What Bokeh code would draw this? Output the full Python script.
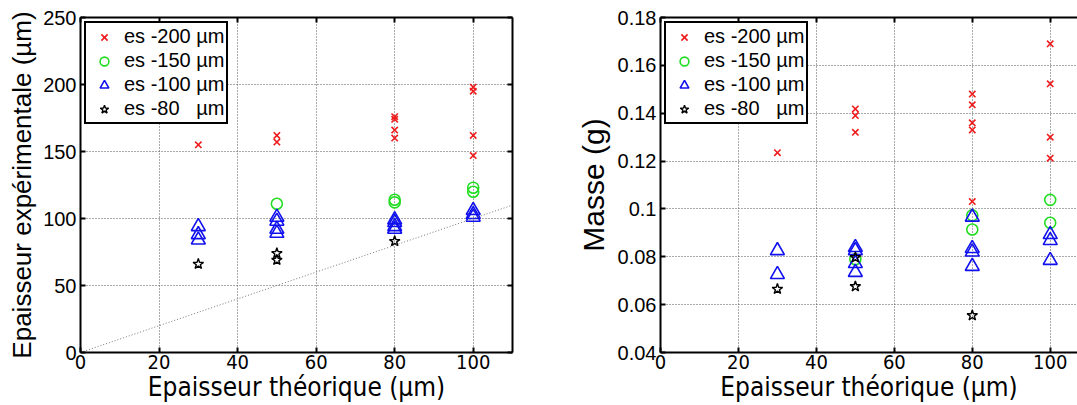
from bokeh.plotting import figure
from bokeh.layouts import row
from bokeh.models import (Range1d, FixedTicker, LinearAxis, Legend, LegendItem,
                          CustomJSTickFormatter)
from bokeh.embed import file_html
from bokeh.resources import INLINE

# ---------------- data ----------------
series_labels = ["es -200 \u00b5m", "es -150 \u00b5m", "es -100 \u00b5m", "es -80\u00a0\u00a0\u00a0\u00b5m"]

# left panel : experimental thickness (um) vs theoretical thickness (um)
x200_l = [30, 50, 50, 80, 80, 80, 80, 100, 100, 100, 100]
y200_l = [155, 162, 157, 176, 174, 166, 160, 198, 195, 162, 147]
x150_l = [50, 80, 80, 100, 100]
y150_l = [111, 114, 112, 123, 120]
x100_l = [30, 30, 30, 50, 50, 50, 50, 80, 80, 80, 80, 100, 100, 100]
y100_l = [94, 88, 84, 101, 98, 92, 89, 99, 97, 94, 92, 106, 103, 101]
x80_l = [30, 50, 50, 80]
y80_l = [66, 74, 69, 83]
diag = [0, 110]

# right panel : mass (g) vs theoretical thickness (um)
x200_r = [30, 50, 50, 50, 80, 80, 80, 80, 80, 100, 100, 100, 100]
y200_r = [0.1235, 0.1418, 0.139, 0.132, 0.148, 0.1435, 0.136, 0.133, 0.1031, 0.169, 0.1523, 0.130, 0.1212]
x150_r = [50, 80, 80, 100, 100]
y150_r = [0.079, 0.0973, 0.0914, 0.1038, 0.0942]
x100_r = [30, 30, 50, 50, 50, 50, 80, 80, 80, 80, 100, 100, 100]
y100_r = [0.0826, 0.0726, 0.0839, 0.0826, 0.0772, 0.0735, 0.0966, 0.0835, 0.082, 0.076, 0.0893, 0.0868, 0.0785]
x80_r = [30, 50, 50, 80]
y80_r = [0.0665, 0.0797, 0.0676, 0.0555]

x_ticks = [0, 20, 40, 60, 80, 100]
y_ticks_l = [0, 50, 100, 150, 200, 250]
y_ticks_r = [0.04, 0.06, 0.08, 0.10, 0.12, 0.14, 0.16, 0.18]

FONT = "Liberation Sans"
NARROW = "DejaVu Sans Condensed"
H = 405
TOP = 17
FRAME_H = 335


def style_axis(ax, ticks, label_font, label_size, tick_font, tick_size):
    ax.ticker = FixedTicker(ticks=ticks)
    ax.axis_line_width = 2
    ax.axis_line_color = "black"
    ax.major_tick_in = 5
    ax.major_tick_out = 0
    ax.major_tick_line_width = 2
    ax.minor_tick_line_color = None
    ax.major_label_text_font = tick_font
    ax.major_label_text_font_size = tick_size
    ax.major_label_text_color = "black"
    ax.axis_label_text_font = label_font
    ax.axis_label_text_font_size = label_size
    ax.axis_label_text_font_style = "normal"
    ax.axis_label_text_color = "black"


def blank_axis(ticks):
    ax = LinearAxis()
    ax.ticker = FixedTicker(ticks=ticks)
    ax.formatter = CustomJSTickFormatter(code="return '';")
    ax.axis_line_width = 2
    ax.axis_line_color = "black"
    ax.major_tick_in = 5
    ax.major_tick_out = 0
    ax.major_tick_line_width = 2
    ax.minor_tick_line_color = None
    ax.major_label_standoff = 0
    return ax


def make_fig(width, xr, yr, yticks, ylabel, ylabel_size, ylabel_standoff, data, mbl, mbr,
             right_border, yfmt=None):
    p = figure(width=width, height=H, output_backend="svg", toolbar_location=None,
               x_range=Range1d(*xr), y_range=Range1d(*yr),
               min_border_left=mbl, min_border_right=mbr, min_border_top=TOP,
               min_border_bottom=H - TOP - FRAME_H)
    p.outline_line_color = None
    p.background_fill_color = "white"
    p.border_fill_color = "white"

    style_axis(p.xaxis[0], x_ticks, NARROW, "26px", NARROW, "20px")
    p.xaxis[0].axis_label = "Epaisseur th\u00e9orique (\u00b5m)"
    p.xaxis[0].major_label_standoff = 2
    p.xaxis[0].axis_label_standoff = 0
    style_axis(p.yaxis[0], yticks, FONT, ylabel_size, FONT, "20px")
    p.yaxis[0].axis_label = ylabel
    p.yaxis[0].major_label_standoff = 4
    p.yaxis[0].axis_label_standoff = ylabel_standoff
    if yfmt is not None:
        p.yaxis[0].formatter = yfmt

    p.add_layout(blank_axis(x_ticks), "above")
    if right_border:
        p.add_layout(blank_axis(yticks), "right")

    p.xgrid.ticker = FixedTicker(ticks=x_ticks)
    p.ygrid.ticker = FixedTicker(ticks=yticks)
    for g in (p.xgrid, p.ygrid):
        g.grid_line_color = "#555555"
        g.grid_line_dash = "1 2"
        g.grid_line_width = 1

    (x200, y200), (x150, y150), (x100, y100), (x80, y80) = data
    r1 = p.scatter(x200, y200, marker="x", size=9, line_color="#ee1c1c", line_width=1.6)
    r2 = p.scatter(x150, y150, marker="circle", size=11, line_color="#22dd22", fill_color=None, line_width=1.6)
    r3 = p.scatter(x100, y100, marker="triangle", size=14, line_color="#1111ee", fill_color=None, line_width=1.6)
    r4 = p.scatter(x80, y80, marker="star", size=11, line_color="black", fill_color=None, line_width=1.4)

    legend = Legend(items=[LegendItem(label=series_labels[i], renderers=[r])
                           for i, r in enumerate([r1, r2, r3, r4])],
                    location="top_left")
    legend.margin = 4
    legend.padding = 2
    legend.spacing = 1
    legend.label_standoff = 4
    legend.glyph_width = 32
    legend.glyph_height = 22
    legend.label_height = 22
    legend.label_text_font = FONT
    legend.label_text_font_size = "20px"
    legend.label_text_color = "black"
    legend.border_line_color = "black"
    legend.border_line_alpha = 1.0
    legend.border_line_width = 2
    legend.background_fill_color = "white"
    legend.background_fill_alpha = 1
    p.add_layout(legend, "center")
    return p


p1 = make_fig(573, (0, 110), (0, 250), y_ticks_l, "Epaisseur exp\u00e9rimentale (\u00b5m)", "26px", 3,
              [(x200_l, y200_l), (x150_l, y150_l), (x100_l, y100_l), (x80_l, y80_l)],
              80, 61, True)
p1.line(diag, diag, line_color="#777777", line_dash="1 2", line_width=1)

fmt = CustomJSTickFormatter(code="return String(Math.round(tick*100)/100);")
p2 = make_fig(504, (0, 107), (0.04, 0.18), y_ticks_r, "Masse (g)", "30px", 5,
              [(x200_r, y200_r), (x150_r, y150_r), (x100_r, y100_r), (x80_r, y80_r)],
              84, 0, False, yfmt=fmt)

layout = row(p1, p2)
open("out.html", "w").write(file_html(layout, INLINE))
